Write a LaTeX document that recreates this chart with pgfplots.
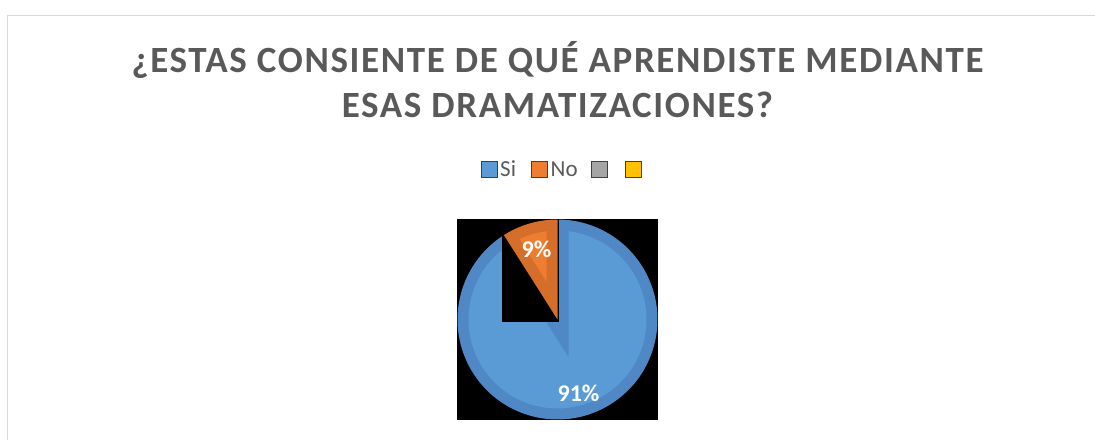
\documentclass[border=0pt]{standalone}
\usepackage{fontspec}
\setmainfont{Carlito}
\newfontfamily\titlefont[LetterSpace=4.4]{Carlito}
\usepackage{pgfplots}
\usepackage{pgfplotstable}
\pgfplotsset{compat=1.18}
\definecolor{bordergray}{HTML}{D9D9D9}
\definecolor{titlegray}{HTML}{595959}
\definecolor{bluedark}{HTML}{4F88C4}
\definecolor{bluelight}{HTML}{5B9BD5}
\definecolor{orangedark}{HTML}{D66E2B}
\definecolor{orangelight}{HTML}{ED7D31}
\definecolor{grayc}{HTML}{A5A5A5}
\definecolor{yellowc}{HTML}{FFC000}
\pgfplotstableread{
label value
Si 91
No 9
}\piedata
\pgfplotstablegetelem{0}{value}\of\piedata \let\vSi\pgfplotsretval
\pgfplotstablegetelem{1}{value}\of\piedata \let\vNo\pgfplotsretval
% angles: "No" starts at 12 o'clock, counterclockwise
\pgfmathsetmacro{\sNo}{90}
\pgfmathsetmacro{\eNo}{90+\vNo*3.6}
\pgfmathsetmacro{\sSi}{\eNo}
\pgfmathsetmacro{\eSi}{\sSi+\vSi*3.6}
\pgfmathsetmacro{\inset}{asin(11/89)}
\pgfmathsetmacro{\mNo}{(\sNo+\eNo)/2}
\pgfmathsetmacro{\dNo}{11/sin((\eNo-\sNo)/2)}
\pgfmathsetmacro{\mSi}{(\sSi+\eSi)/2}
\pgfmathsetmacro{\dSi}{11/sin((\eSi-\sSi)/2)}
\begin{document}
\begin{tikzpicture}[x=1pt,y=1pt]
\useasboundingbox (0,0) rectangle (1095,440);
\draw[color=bordergray, line width=1.5pt] (7.5,0) -- (7.5,424.5) -- (1095,424.5);
\node[anchor=base, text=titlegray, inner sep=0pt, font=\titlefont\bfseries\fontsize{37}{44}\selectfont] at (557.5,367.8) {¿ESTAS CONSIENTE DE QUÉ APRENDISTE MEDIANTE};
\node[anchor=base, text=titlegray, inner sep=0pt, font=\titlefont\bfseries\fontsize{37}{44}\selectfont] at (557.5,322.8) {ESAS DRAMATIZACIONES?};
% legend
\filldraw[fill=bluelight, draw=black!75, line width=0.8pt] (481,262.5) rectangle (497,279);
\node[anchor=base west, inner sep=0pt, text=titlegray, font=\fontsize{23}{27}\selectfont] at (500,263.3) {Si};
\filldraw[fill=orangelight, draw=black!75, line width=0.8pt] (531,262.5) rectangle (547,279);
\node[anchor=base west, inner sep=0pt, text=titlegray, font=\fontsize{23}{27}\selectfont] at (550.5,263.3) {No};
\filldraw[fill=grayc, draw=black!75, line width=0.8pt] (591,262.5) rectangle (607,279);
\filldraw[fill=yellowc, draw=black!75, line width=0.8pt] (625,262.5) rectangle (641,279);
\begin{axis}[at={(557.5pt,120.5pt)}, anchor=center, x=1pt, y=1pt,
  xmin=-100.5, xmax=100.5, ymin=-100.5, ymax=100.5,
  hide axis, scale only axis, disabledatascaling, clip=false]
\fill[black] (axis cs:-100.5,-100.5) rectangle (axis cs:100.5,100.5);
% Si slice
\fill[bluedark] (axis cs:0,0) -- (axis cs:{100*cos(\sSi)},{100*sin(\sSi)}) arc[start angle=\sSi, end angle=\eSi, radius=100pt] -- cycle;
\fill[bluelight] (axis cs:{\dSi*cos(\mSi)},{\dSi*sin(\mSi)}) -- (axis cs:{89*cos(\sSi+\inset)},{89*sin(\sSi+\inset)}) arc[start angle=\sSi+\inset, end angle=\eSi-\inset, radius=89pt] -- cycle;
% rendering artefact: black box behind the small slice
\fill[black] (axis cs:-55.5,-2.5) rectangle (axis cs:1.5,100.5);
% No slice
\fill[orangedark] (axis cs:0,0) -- (axis cs:{100*cos(\sNo)},{100*sin(\sNo)}) arc[start angle=\sNo, end angle=\eNo, radius=100pt] -- cycle;
\fill[orangelight] (axis cs:{\dNo*cos(\mNo)},{\dNo*sin(\mNo)}) -- (axis cs:{89*cos(\sNo+\inset)},{89*sin(\sNo+\inset)}) arc[start angle=\sNo+\inset, end angle=\eNo-\inset, radius=89pt] -- cycle;
\node[text=white, font=\bfseries\fontsize{24}{28}\selectfont] at (axis cs:-21,70) {9\%};
\node[text=white, font=\bfseries\fontsize{24}{28}\selectfont] at (axis cs:21,-74) {91\%};
\end{axis}
\end{tikzpicture}
\end{document}
